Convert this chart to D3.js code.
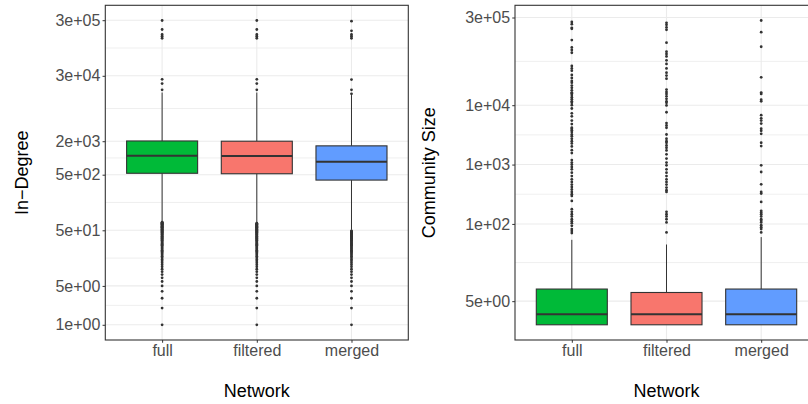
<!DOCTYPE html>
<meta charset="utf-8">
<style>
body {
  margin: 0;
  background: #fff;
}
text {
  font-family: "Liberation Sans", Arial, sans-serif;
}
</style>
<body>
<div id="graph"></div>
<script src="https://d3js.org/d3.v7.min.js"></script>
<script>
// ---- data ----
var categories = ["full", "filtered", "merged"];
var boxColors = ["#00BA38", "#F8766D", "#619CFF"];

// In-Degree
var degQ1 = [530, 520, 400];
var degMedian = [1090, 1080, 850];
var degQ3 = [2020, 2000, 1650];
var degLow = [71, 69, 51];
var degHigh = [15000, 15000, 13500];
var degOutFull = [1,2,3,4,5,6,7,8,9,10,11,12,13,14,15,16,17,18,19,20,21,22,23,24,25,26,27,28,29,30,
  31,32,33,34,35,36,37,38,39,40,41,42,43,44,45,46,47,48,49,50,51,52,53,54,55,56,57,58,59,60,
  61,62,63,64,65,66,67,68,69,70,16800,21700,25900,142000,155000,166000,204000,296000];
var degOutFiltered = [1,2,3,4,5,6,7,8,9,10,11,12,13,14,15,16,17,18,19,20,21,22,23,24,25,26,27,28,29,30,
  31,32,33,34,35,36,37,38,39,40,41,42,43,44,45,46,47,48,49,50,51,52,53,54,55,56,57,58,59,60,
  61,62,63,64,65,66,67,16800,21700,25900,142000,155000,166000,204000,296000];
var degOutMerged = [1,2,3,4,5,6,7,8,9,10,11,12,13,14,15,16,17,18,19,20,21,22,23,24,25,26,27,28,29,30,
  31,32,33,34,35,36,37,38,39,40,41,42,43,44,45,46,47,48,49,14200,16800,25700,142000,155000,166000,193000,288000];
var degTicks = [1, 5, 50, 500, 2000, 30000, 300000];
var degTickLabels = ["1e+00", "5e+00", "5e+01", "5e+02", "2e+03", "3e+04", "3e+05"];

// Community Size
var sizeQ1 = [2, 2, 2];
var sizeMedian = [3, 3, 3];
var sizeQ3 = [8, 7, 8];
var sizeLow = [2, 2, 2];
var sizeHigh = [54, 45, 60];
var sizeOutFull = [253000,232000,201000,194000,125000,94000,85000,76500,45800,41700,38200,32300,28800,
  25600,24000,21400,19600,17800,16300,15900,14900,13600,12600,11600,11000,10000,8800,7300,6500,5500,
  4800,4170,4010,3800,3520,3210,3010,2720,2480,2270,2020,1750,1560,1190,1080,1000,910,830,730,640,565,
  510,460,420,380,346,316,296,244,177,160,146,134,120,111,103,93,82,76,70];
var sizeOutFiltered = [244000,226000,204000,186000,113000,79600,72800,66400,56900,49500,41700,35300,
  31500,28000,18300,16700,15500,14100,12800,11600,11000,9900,7600,5000,4560,4170,3210,2720,2480,2330,
  2100,1920,1730,1490,1260,1080,970,830,730,640,565,510,460,410,370,346,160,146,134,120,106,72];
var sizeOutMerged = [267000,170000,96600,29500,16300,15500,12400,11600,6800,6000,5500,4900,4010,3700,
  3300,2330,2050,970,750,465,346,325,235,166,156,146,134,120,113,106,95,88,82,72];
var sizeTicks = [5, 100, 1000, 10000, 300000];
var sizeTickLabels = ["5e+00", "1e+02", "1e+03", "1e+04", "3e+05"];

var svg = d3.select("#graph")
  .append("svg")
    .attr("width", 808)
    .attr("height", 404);

function drawPanel(p) {
  var left = p.left, top = 5.3, width = 303, height = 334.7;
  var bottom = top + height;

  var x = d3.scalePoint()
    .domain(categories)
    .range([left, left + width])
    .padding(0.6);
  var boxW = x.step() * 0.75;

  var allVals = d3.merge([p.q1, p.q3, p.low, p.high].concat(p.outliers));
  var ext = d3.extent(allVals);
  var l0 = Math.log10(ext[0]), l1 = Math.log10(ext[1]);
  var pad = (l1 - l0) * 0.05;
  var y = d3.scaleLog()
    .domain([Math.pow(10, l0 - pad), Math.pow(10, l1 + pad)])
    .range([bottom, top]);

  var g = svg.append("g");

  // minor grid (log midpoints between breaks)
  var minor = [];
  for (var i = 0; i < p.ticks.length - 1; i++) {
    minor.push(Math.sqrt(p.ticks[i] * p.ticks[i + 1]));
  }
  g.selectAll(".minor")
    .data(minor)
    .enter().append("line")
    .attr("x1", left).attr("x2", left + width)
    .attr("y1", function(d) { return y(d); })
    .attr("y2", function(d) { return y(d); })
    .attr("stroke", "#EBEBEB")
    .attr("stroke-width", 0.8);

  g.selectAll(".major")
    .data(p.ticks)
    .enter().append("line")
    .attr("x1", left).attr("x2", left + width)
    .attr("y1", function(d) { return y(d); })
    .attr("y2", function(d) { return y(d); })
    .attr("stroke", "#EBEBEB")
    .attr("stroke-width", 1.1);

  g.selectAll(".vmajor")
    .data(categories)
    .enter().append("line")
    .attr("x1", function(d) { return x(d); })
    .attr("x2", function(d) { return x(d); })
    .attr("y1", top).attr("y2", bottom)
    .attr("stroke", "#EBEBEB")
    .attr("stroke-width", 1.1);

  // boxes
  categories.forEach(function(c, i) {
    var cx = x(c);
    g.append("line")
      .attr("x1", cx).attr("x2", cx)
      .attr("y1", y(p.q3[i])).attr("y2", y(p.high[i]))
      .attr("stroke", "#333").attr("stroke-width", 1);
    g.append("line")
      .attr("x1", cx).attr("x2", cx)
      .attr("y1", y(p.q1[i])).attr("y2", y(p.low[i]))
      .attr("stroke", "#333").attr("stroke-width", 1);

    g.selectAll(".out" + i)
      .data(p.outliers[i])
      .enter().append("circle")
      .attr("cx", cx)
      .attr("cy", function(d) { return y(d); })
      .attr("r", 1.4)
      .attr("fill", "#333");

    g.append("rect")
      .attr("x", cx - boxW / 2)
      .attr("y", y(p.q3[i]))
      .attr("width", boxW)
      .attr("height", y(p.q1[i]) - y(p.q3[i]))
      .attr("fill", boxColors[i])
      .attr("stroke", "#333")
      .attr("stroke-width", 1.1);
    g.append("line")
      .attr("x1", cx - boxW / 2).attr("x2", cx + boxW / 2)
      .attr("y1", y(p.median[i])).attr("y2", y(p.median[i]))
      .attr("stroke", "#333").attr("stroke-width", 2);
  });

  // border
  g.append("rect")
    .attr("x", left).attr("y", top)
    .attr("width", width).attr("height", height)
    .attr("fill", "none")
    .attr("stroke", "#333")
    .attr("stroke-width", 1.1);

  // axes
  var yAxis = g.append("g")
    .attr("transform", "translate(" + left + ",0)")
    .call(d3.axisLeft(y)
      .tickValues(p.ticks)
      .tickFormat(function(d, i) { return p.labels[i]; })
      .tickSize(2.75)
      .tickPadding(2.2));
  var xAxis = g.append("g")
    .attr("transform", "translate(0," + bottom + ")")
    .call(d3.axisBottom(x).tickSize(2.75).tickPadding(1.5));

  [yAxis, xAxis].forEach(function(a) {
    a.select(".domain").remove();
    a.attr("font-family", null).attr("font-size", 16);
    a.selectAll("line").attr("stroke", "#333");
    a.selectAll("text").attr("fill", "#4D4D4D");
  });

  g.append("text")
    .attr("x", left + width / 2)
    .attr("y", 396.5)
    .attr("text-anchor", "middle")
    .attr("font-size", 18)
    .text("Network");

  g.append("text")
    .attr("transform", "translate(" + p.titleX + "," + (top + height / 2) + ") rotate(-90)")
    .attr("text-anchor", "middle")
    .attr("font-size", 18)
    .text(p.title);
}

drawPanel({
  left: 105.3, titleX: 28, title: "In\u2212Degree",
  q1: degQ1, median: degMedian, q3: degQ3, low: degLow, high: degHigh,
  outliers: [degOutFull, degOutFiltered, degOutMerged],
  ticks: degTicks, labels: degTickLabels
});

drawPanel({
  left: 515, titleX: 435, title: "Community Size",
  q1: sizeQ1, median: sizeMedian, q3: sizeQ3, low: sizeLow, high: sizeHigh,
  outliers: [sizeOutFull, sizeOutFiltered, sizeOutMerged],
  ticks: sizeTicks, labels: sizeTickLabels
});
</script>
</body>
